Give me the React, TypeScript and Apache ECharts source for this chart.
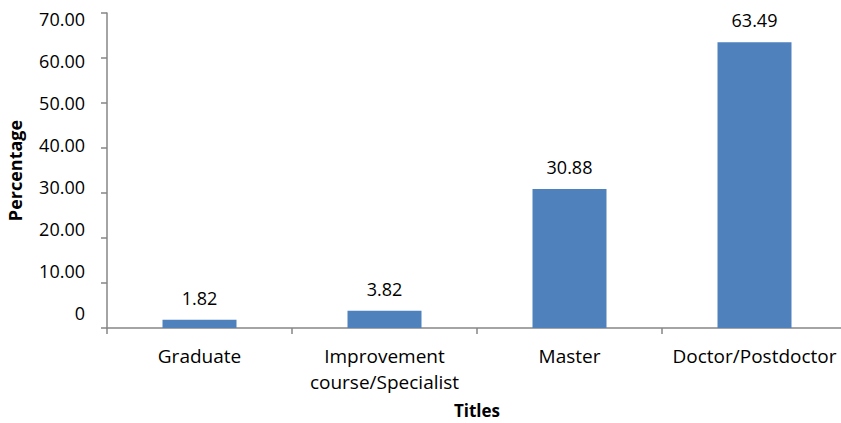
import React, { useEffect, useRef } from "react";
import * as echarts from "echarts";

const categories = ["Graduate", "Improvement\ncourse/Specialist", "Master", "Doctor/Postdoctor"];
const values = [1.82, 3.82, 30.88, 63.49];
const yTicks = { min: 0, max: 70, interval: 10 };

const FONT = "'Open Sans', Lato, sans-serif";
const AXIS_COLOR = "#868686";

export default function App() {
  const ref = useRef<HTMLDivElement>(null);
  useEffect(() => {
    const chart = echarts.init(ref.current!, null, { renderer: "svg" });
    chart.setOption({
      animation: false,
      grid: [
        { left: 107, right: -6, top: 13, bottom: 95, containLabel: false, outerBoundsMode: "none" },
        { left: 107, right: -6, top: 19, bottom: 110, containLabel: false, outerBoundsMode: "none" },
      ],
      xAxis: [
        {
          type: "category",
          gridIndex: 0,
          data: categories,
          name: "Titles",
          nameLocation: "middle",
          nameGap: 74,
          nameTextStyle: { fontFamily: FONT, fontWeight: "bold", fontSize: 17, lineHeight: 17, color: "#000" },
          axisLine: { lineStyle: { color: AXIS_COLOR, width: 1.5 } },
          axisTick: { show: true, length: 6, alignWithLabel: false, lineStyle: { color: AXIS_COLOR, width: 1.5 } },
          axisLabel: { fontFamily: FONT, fontSize: 19, color: "#000", margin: 15, lineHeight: 26, interval: 0 },
        },
        {
          type: "category",
          gridIndex: 1,
          data: categories,
          show: false,
        },
      ],
      yAxis: [
        {
          type: "value",
          gridIndex: 0,
          min: yTicks.min,
          max: yTicks.max,
          interval: yTicks.interval,
          name: "Percentage",
          nameLocation: "middle",
          nameGap: 81,
          nameTextStyle: { fontFamily: FONT, fontWeight: "bold", fontSize: 18, lineHeight: 22, color: "#000" },
          axisLine: { show: true, lineStyle: { color: AXIS_COLOR, width: 1.5 } },
          axisTick: { show: true, length: 6, lineStyle: { color: AXIS_COLOR, width: 1.5 } },
          splitLine: { show: false },
          axisLabel: { show: false },
        },
        {
          type: "value",
          gridIndex: 1,
          min: yTicks.min,
          max: yTicks.max,
          interval: yTicks.interval,
          axisLine: { show: false },
          axisTick: { show: false },
          splitLine: { show: false },
          axisLabel: {
            fontFamily: FONT,
            fontSize: 18,
            color: "#000",
            margin: 22,
            formatter: (v: number) => (v === 0 ? "0" : v.toFixed(2)),
          },
        },
      ],
      series: [
        {
          type: "bar",
          xAxisIndex: 0,
          yAxisIndex: 0,
          data: values,
          barWidth: "40%",
          itemStyle: { color: "#4F81BD" },
          label: {
            show: true,
            position: "top",
            distance: 13,
            fontFamily: FONT,
            fontSize: 18,
            color: "#000",
            formatter: (p: any) => p.value.toFixed(2),
          },
        },
      ],
    });
    return () => chart.dispose();
  }, []);
  return <div ref={ref} style={{ width: 841, height: 423, position: "absolute", left: 0, top: 0 }} />;
}
